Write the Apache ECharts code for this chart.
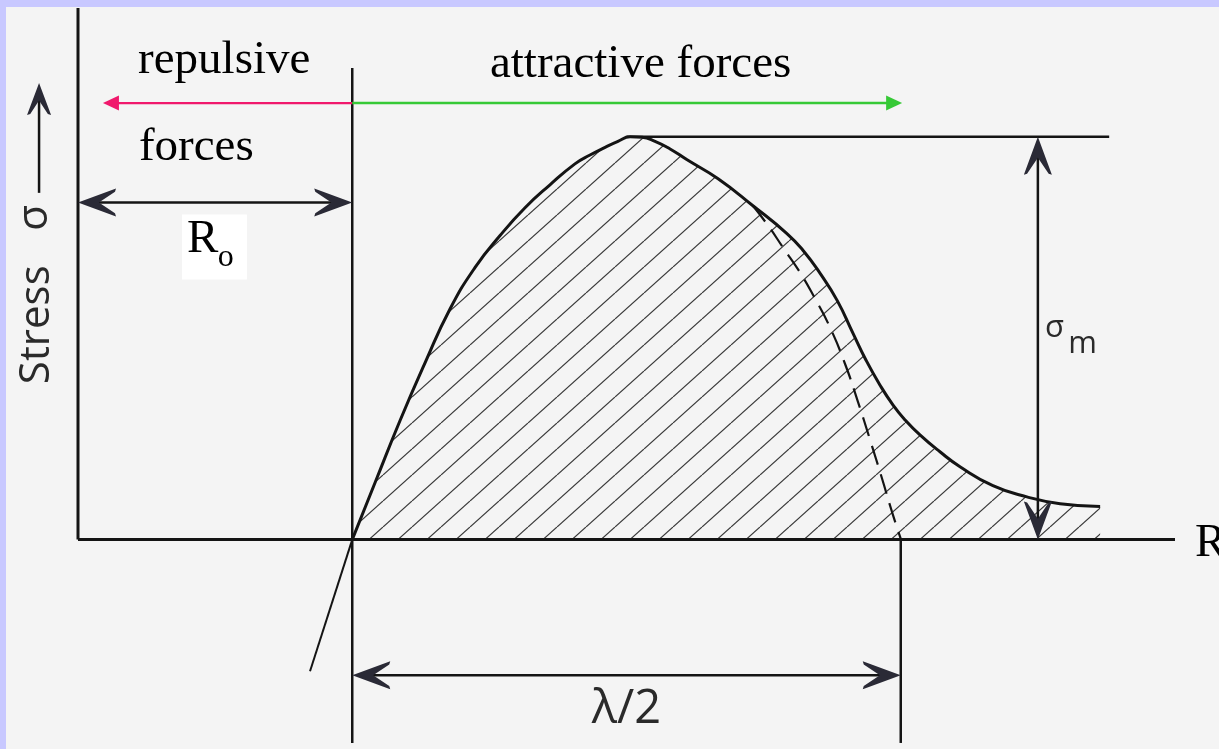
<!DOCTYPE html>
<html>
<head>
<meta charset="utf-8">
<title>Stress versus interatomic distance</title>
<script src="https://cdn.jsdelivr.net/npm/echarts@6/dist/echarts.min.js"></script>
<style>
  html, body { margin: 0; padding: 0; width: 1219px; height: 749px; overflow: hidden; background: #c8c8ff; }
  #chart { position: absolute; left: 6px; top: 7px; width: 1213px; height: 742px; background: #f4f4f4; }
</style>
</head>
<body>
<div id="chart"></div>
<script>
// Distances R are in units of the equilibrium spacing R0, stresses in units of σm.
const R0 = 1;
const HALF_LAMBDA = 2;
const SIGMA_M = 1;
const R_MAX = 4;
const AXIS_TOP = 1.32;

// Stress–distance curve (solid), from R0 outwards
const curveR = [1.000, 1.083, 1.174, 1.265, 1.356, 1.448, 1.539, 1.630, 1.721, 1.812, 1.867, 1.922,
                1.969, 2.013, 2.057, 2.104, 2.159, 2.221, 2.334, 2.461, 2.585, 2.644, 2.706, 2.768,
                2.826, 2.873, 2.924, 2.972, 3.016, 3.070, 3.143, 3.216, 3.336, 3.460, 3.581, 3.727];
const curveS = [0.000, 0.141, 0.295, 0.438, 0.572, 0.676, 0.755, 0.824, 0.881, 0.933, 0.955, 0.974,
                0.989, 1.000, 0.999, 0.989, 0.970, 0.943, 0.896, 0.829, 0.760, 0.718, 0.661, 0.594,
                0.512, 0.446, 0.384, 0.334, 0.297, 0.260, 0.218, 0.181, 0.134, 0.106, 0.089, 0.082];

// Sine approximation (dashed), reaching zero at R0 + λ/2
const sineR = [2.461, 2.516, 2.571, 2.633, 2.687, 2.742, 2.797, 2.844, 2.888, 2.932, 2.968, 3.001];
const sineS = [0.829, 0.780, 0.725, 0.663, 0.599, 0.527, 0.436, 0.342, 0.248, 0.151, 0.069, 0.000];

// Compressive branch below the axis
const repR = [1.000, 0.846];
const repS = [0.000, -0.327];

const INK = '#141414';
const SERIF = "'Liberation Serif', 'Times New Roman', serif";
const SANS = "'Open Sans', 'DejaVu Sans', sans-serif";

// Guide lines and dimension arrows
const guides = [
  { from: [0, 0], to: [0, AXIS_TOP], width: 3 },
  { from: [0, 0], to: [R_MAX, 0], width: 3 },
  { from: [R0, 1.171], to: [R0, -0.505], width: 2.5 },
  { from: [R0 + HALF_LAMBDA, 0], to: [R0 + HALF_LAMBDA, -0.505], width: 2.5 },
  { from: [2.0, SIGMA_M], to: [3.76, SIGMA_M], width: 2.5 },
  { from: [3.5, SIGMA_M], to: [3.5, 0], start: true, end: true, width: 2.5 },
  { from: [0, 0.837], to: [R0, 0.837], start: true, end: true, width: 2.5 },
  { from: [R0, -0.337], to: [R0 + HALF_LAMBDA, -0.337], start: true, end: true, width: 2.5 },
  { from: [R0, 1.084], to: [0.091, 1.084], end: true, head: 'tri', color: '#f0186c', width: 2.2 },
  { from: [R0, 1.084], to: [3.005, 1.084], end: true, head: 'tri', color: '#36c936', width: 2.5 },
  { from: [-0.142, 0.861], to: [-0.142, 1.134], end: true, head: 'small', width: 2.5 }
];

const HEADS = {
  dart:  { kind: 'dart', L: 38, W: 28, inset: 12 },
  small: { kind: 'dart', L: 32, W: 24, inset: 10 },
  tri:   { kind: 'tri',  L: 16, W: 15, inset: 12 }
};

// Text labels: position of the text baseline start (data units)
const labels = [
  { text: 'repulsive', x: 0.219, y: 1.151, size: 47, family: SERIF, color: '#000' },
  { text: 'forces', x: 0.222, y: 0.936, size: 47, family: SERIF, color: '#000' },
  { text: 'attractive forces', x: 1.502, y: 1.141, size: 47, family: SERIF, color: '#000' },
  { text: 'R', x: 0.397, y: 0.708, size: 47, family: SERIF, color: '#000', box: [0.379, 0.807, 0.616, 0.646] },
  { text: 'o', x: 0.510, y: 0.676, size: 32, family: SERIF, color: '#000' },
  { text: 'R', x: 4.073, y: -0.047, size: 47, family: SERIF, color: '#000' },
  { text: 'σ', x: 3.526, y: 0.500, size: 31, family: SANS, color: '#2a2a2a' },
  { text: 'm', x: 3.611, y: 0.460, size: 31, family: SANS, color: '#2a2a2a' },
  { text: 'λ/2', x: R0 + HALF_LAMBDA / 2, y: -0.460, size: 47, family: SANS, color: '#2a2a2a', align: 'center' },
  { text: 'Stress', x: -0.102, y: 0.386, size: 42, family: SANS, color: '#2a2a2a', rotate: 90 },
  { text: 'σ', x: -0.106, y: 0.767, size: 42, family: SANS, color: '#2a2a2a', rotate: 90 }
];

function hatchTile() {
  const W = 29, H = 26;
  const c = document.createElement('canvas');
  c.width = W; c.height = H;
  const g = c.getContext('2d');
  g.strokeStyle = 'rgba(35,35,35,0.9)';
  g.lineWidth = 1.2;
  for (const dx of [-W, 0, W]) {
    g.beginPath();
    g.moveTo(dx, H);
    g.lineTo(dx + W, 0);
    g.stroke();
  }
  return c;
}

function headShape(tip, ux, uy, head, color) {
  const L = head.L, hw = head.W / 2;
  const local = head.kind === 'tri'
    ? [[0, 0], [-L, hw], [-L, -hw]]
    : [[0, 0], [-L, hw], [-L + 1, hw - 3.2], [-0.55 * L, 0], [-L + 1, -hw + 3.2], [-L, -hw]];
  const points = local.map(([u, v]) => [tip[0] + u * ux - v * uy, tip[1] + u * uy + v * ux]);
  return { type: 'polygon', shape: { points }, style: { fill: color } };
}

function renderGuide(params, api) {
  const g = guides[params.dataIndex];
  const p1 = api.coord(g.from), p2 = api.coord(g.to);
  const dx = p2[0] - p1[0], dy = p2[1] - p1[1];
  const len = Math.hypot(dx, dy), ux = dx / len, uy = dy / len;
  const head = HEADS[g.head || 'dart'];
  const color = g.color || INK;
  const headColor = g.color || '#2a2a36';
  let a = p1, b = p2;
  const heads = [];
  if (g.start) {
    a = [p1[0] + ux * head.inset, p1[1] + uy * head.inset];
    heads.push(headShape(p1, -ux, -uy, head, headColor));
  }
  if (g.end) {
    b = [p2[0] - ux * head.inset, p2[1] - uy * head.inset];
    heads.push(headShape(p2, ux, uy, head, headColor));
  }
  const shaft = { type: 'line', shape: { x1: a[0], y1: a[1], x2: b[0], y2: b[1] },
                  style: { stroke: color, lineWidth: g.width || 2.5 } };
  return { type: 'group', children: [shaft].concat(heads) };
}

function renderLabel(params, api) {
  const l = labels[params.dataIndex];
  const p = api.coord([l.x, l.y]);
  const rot = (l.rotate || 0) * Math.PI / 180;
  const off = 0.32 * l.size;
  const children = [];
  if (l.box) {
    const c1 = api.coord([l.box[0], l.box[1]]), c2 = api.coord([l.box[2], l.box[3]]);
    children.push({ type: 'rect', shape: { x: c1[0], y: c1[1], width: c2[0] - c1[0], height: c2[1] - c1[1] },
                    style: { fill: '#ffffff' } });
  }
  children.push({
    type: 'text',
    x: p[0] - Math.sin(rot) * off,
    y: p[1] - Math.cos(rot) * off,
    rotation: rot,
    style: { text: l.text, font: l.size + 'px ' + l.family, fill: l.color,
             align: l.align || 'left', verticalAlign: 'middle' }
  });
  return { type: 'group', children };
}

const chart = echarts.init(document.getElementById('chart'), null, { renderer: 'canvas' });
chart.setOption({
  animation: false,
  backgroundColor: '#f4f4f4',
  grid: { left: 72, top: 1, width: 1097, height: 743.36 },
  xAxis: { type: 'value', min: 0, max: R_MAX, show: false },
  yAxis: { type: 'value', min: -0.52, max: AXIS_TOP, show: false },
  series: [
    {
      name: 'stress',
      type: 'line',
      data: curveR.map((r, i) => [r, curveS[i]]),
      smooth: 0.5,
      symbol: 'none',
      silent: true,
      lineStyle: { color: INK, width: 3 },
      areaStyle: { color: { image: hatchTile(), repeat: 'repeat' }, opacity: 1 },
      z: 3
    },
    {
      name: 'sine approximation',
      type: 'line',
      data: sineR.map((r, i) => [r, sineS[i]]),
      smooth: 0.5,
      symbol: 'none',
      silent: true,
      lineStyle: { color: INK, width: 2.2, type: [20, 10] },
      z: 4
    },
    {
      name: 'compressive branch',
      type: 'line',
      data: repR.map((r, i) => [r, repS[i]]),
      symbol: 'none',
      silent: true,
      lineStyle: { color: INK, width: 2 },
      z: 3
    },
    {
      name: 'guides',
      type: 'custom',
      data: guides.map(g => [g.from[0], g.from[1], g.to[0], g.to[1]]),
      renderItem: renderGuide,
      silent: true,
      z: 5
    },
    {
      name: 'labels',
      type: 'custom',
      data: labels.map(l => [l.x, l.y]),
      renderItem: renderLabel,
      silent: true,
      z: 6
    }
  ]
});
</script>
</body>
</html>
